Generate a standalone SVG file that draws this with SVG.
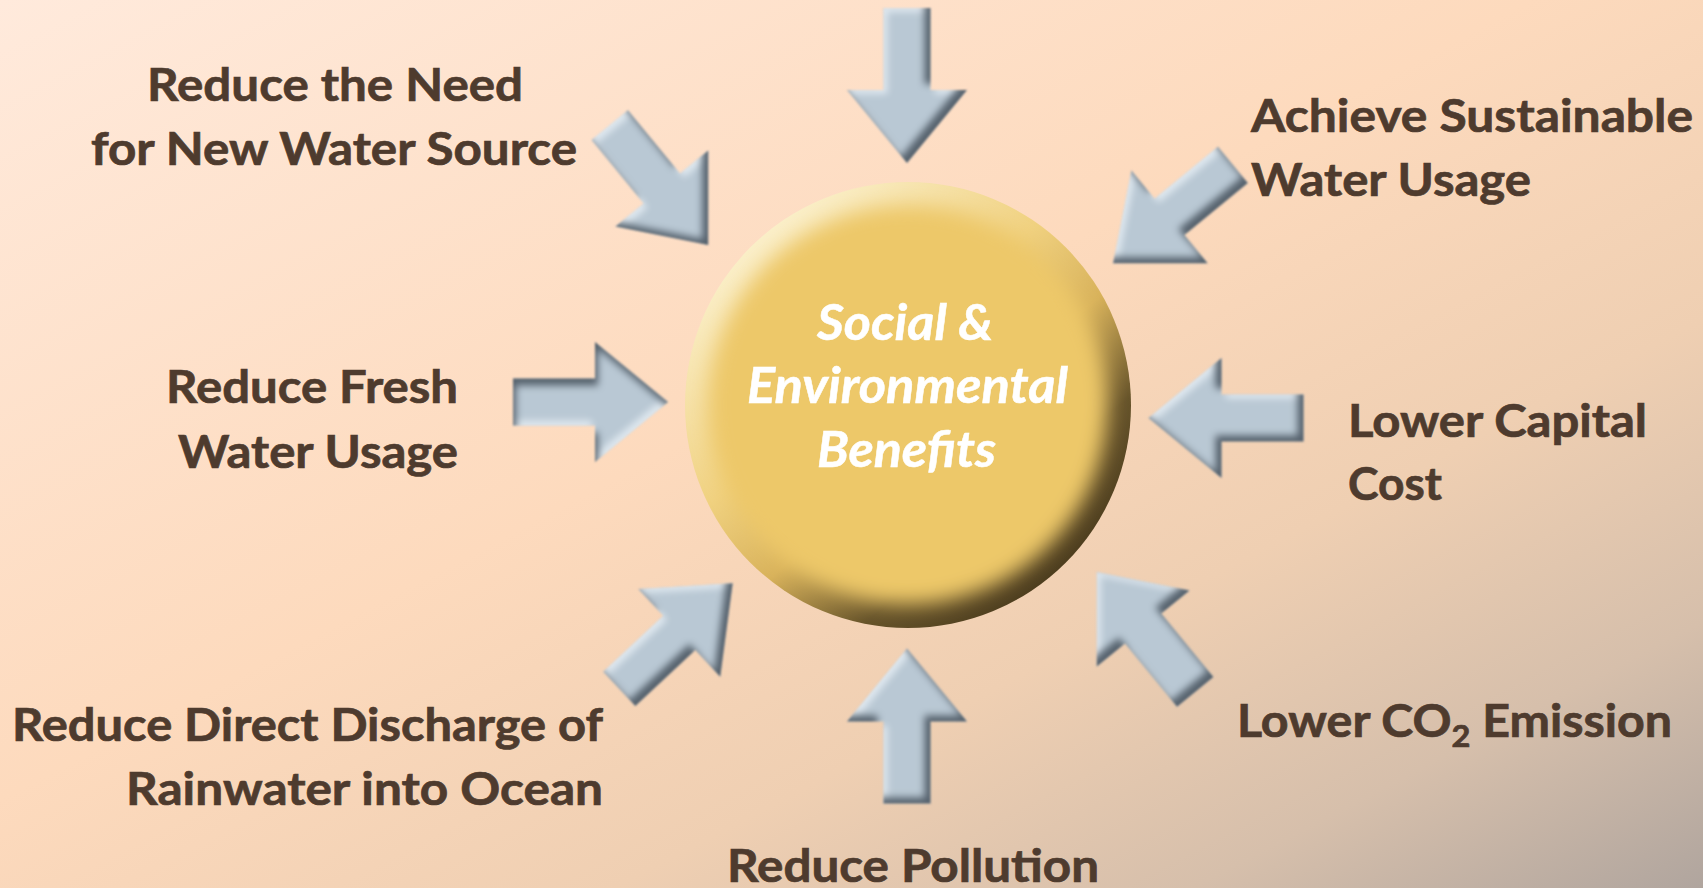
<svg xmlns="http://www.w3.org/2000/svg" xmlns:xlink="http://www.w3.org/1999/xlink" width="1703" height="888" viewBox="0 0 1703 888">
  <defs>
    <style>
      .lbl { font-family: Lato, "Liberation Sans", sans-serif; font-weight: 700; font-size: 46px; fill: #4e3b2e; stroke: #4e3b2e; stroke-width: 0.7px; }
      .hub { font-family: Lato, "Liberation Sans", sans-serif; font-weight: 700; font-style: italic; font-size: 50px; fill: #ffffff; stroke: #ffffff; stroke-width: 0.5px; }
      .arrow { fill: #b9c8d4; }
    </style>
    <linearGradient id="bg" x1="0" y1="0" x2="1" y2="1">
      <stop offset="0" stop-color="#ffeadc"/>
      <stop offset="0.45" stop-color="#fddabd"/>
      <stop offset="0.68" stop-color="#efcfb2"/>
      <stop offset="0.85" stop-color="#d6bfab"/>
      <stop offset="1" stop-color="#b0a59e"/>
    </linearGradient>
    <linearGradient id="rim" x1="0.15" y1="0.1" x2="0.85" y2="0.92">
      <stop offset="0" stop-color="#fbf1cf"/>
      <stop offset="0.38" stop-color="#f0d180"/>
      <stop offset="0.58" stop-color="#d8b25b"/>
      <stop offset="0.78" stop-color="#66532a"/>
      <stop offset="1" stop-color="#47381c"/>
    </linearGradient>
    <clipPath id="disc"><circle cx="908" cy="405" r="223"/></clipPath>
    <filter id="soft" x="-20%" y="-20%" width="140%" height="140%">
      <feGaussianBlur stdDeviation="10"/>
    </filter>
    <!-- bevel: shade on lower/right edges, highlight on upper/left -->
    <filter id="bevelBR" x="-20%" y="-20%" width="140%" height="140%" color-interpolation-filters="sRGB">
      <feGaussianBlur in="SourceAlpha" stdDeviation="3.5" result="blur"/>
      <feOffset in="blur" dx="-6" dy="-6" result="shiftD"/>
      <feComposite in="SourceAlpha" in2="shiftD" operator="out" result="edgeD"/>
      <feFlood flood-color="#56626d"/>
      <feComposite in2="edgeD" operator="in" result="dark"/>
      <feOffset in="blur" dx="4" dy="4" result="shiftL"/>
      <feComposite in="SourceAlpha" in2="shiftL" operator="out" result="edgeL"/>
      <feFlood flood-color="#dfe8ef"/>
      <feComposite in2="edgeL" operator="in" result="light"/>
      <feMerge result="m">
        <feMergeNode in="SourceGraphic"/>
        <feMergeNode in="light"/>
        <feMergeNode in="dark"/>
      </feMerge>
      <feGaussianBlur in="m" stdDeviation="0.8"/>
    </filter>
    <!-- bevel: shade on upper edges, highlight below -->
    <filter id="bevelT" x="-20%" y="-20%" width="140%" height="140%" color-interpolation-filters="sRGB">
      <feGaussianBlur in="SourceAlpha" stdDeviation="3.5" result="blur"/>
      <feOffset in="blur" dx="3" dy="7" result="shiftD"/>
      <feComposite in="SourceAlpha" in2="shiftD" operator="out" result="edgeD"/>
      <feFlood flood-color="#56626d"/>
      <feComposite in2="edgeD" operator="in" result="dark"/>
      <feOffset in="blur" dx="-3" dy="-5" result="shiftL"/>
      <feComposite in="SourceAlpha" in2="shiftL" operator="out" result="edgeL"/>
      <feFlood flood-color="#dfe8ef"/>
      <feComposite in2="edgeL" operator="in" result="light"/>
      <feMerge result="m">
        <feMergeNode in="SourceGraphic"/>
        <feMergeNode in="light"/>
        <feMergeNode in="dark"/>
      </feMerge>
      <feGaussianBlur in="m" stdDeviation="0.8"/>
    </filter>
    <!-- block arrow pointing right, centred on the origin -->
    <path id="blockArrow" class="arrow" d="M-77.5,-23.5 L4.5,-23.5 L4.5,-60 L77.5,0 L4.5,60 L4.5,23.5 L-77.5,23.5 Z"/>
  </defs>

  <rect x="0" y="0" width="1703" height="888" fill="url(#bg)"/>

  <g id="connectors">
    <g id="arrow-top" filter="url(#bevelBR)"><use xlink:href="#blockArrow" transform="translate(907,85.5) rotate(90)"/></g>
    <g id="arrow-top-left" filter="url(#bevelBR)"><use xlink:href="#blockArrow" transform="translate(659,185) rotate(50.6)"/></g>
    <g id="arrow-top-right" filter="url(#bevelBR)"><use xlink:href="#blockArrow" transform="translate(1173,214) rotate(140.6)"/></g>
    <g id="arrow-left" filter="url(#bevelT)"><use xlink:href="#blockArrow" transform="translate(590.5,402)"/></g>
    <g id="arrow-right" filter="url(#bevelBR)"><use xlink:href="#blockArrow" transform="translate(1226,418) rotate(180)"/></g>
    <g id="arrow-bottom-left" filter="url(#bevelBR)"><use xlink:href="#blockArrow" transform="translate(676,636) rotate(-43)"/></g>
    <g id="arrow-bottom" filter="url(#bevelBR)"><use xlink:href="#blockArrow" transform="translate(907,726) rotate(-90)"/></g>
    <g id="arrow-bottom-right" filter="url(#bevelBR)"><use xlink:href="#blockArrow" transform="translate(1146,632) rotate(-129.4)"/></g>
  </g>

  <g id="center">
    <circle cx="908" cy="405" r="223" fill="url(#rim)"/>
    <g clip-path="url(#disc)">
      <circle cx="908" cy="405" r="199" fill="#edc869" filter="url(#soft)"/>
    </g>
    <text class="hub" x="817" y="340" textLength="176" lengthAdjust="spacingAndGlyphs">Social &amp;</text>
    <text class="hub" x="747" y="403" textLength="321" lengthAdjust="spacingAndGlyphs">Environmental</text>
    <text class="hub" x="817" y="467" textLength="179" lengthAdjust="spacingAndGlyphs">Benefits</text>
  </g>

  <g id="label-new-source">
    <text class="lbl" x="147" y="101" textLength="376" lengthAdjust="spacingAndGlyphs">Reduce the Need</text>
    <text class="lbl" x="91" y="165" textLength="486" lengthAdjust="spacingAndGlyphs">for New Water Source</text>
  </g>
  <g id="label-fresh-water">
    <text class="lbl" x="166" y="403" textLength="292" lengthAdjust="spacingAndGlyphs">Reduce Fresh</text>
    <text class="lbl" x="178" y="468" textLength="280" lengthAdjust="spacingAndGlyphs">Water Usage</text>
  </g>
  <g id="label-rainwater">
    <text class="lbl" x="12" y="741" textLength="591" lengthAdjust="spacingAndGlyphs">Reduce Direct Discharge of</text>
    <text class="lbl" x="126" y="805" textLength="477" lengthAdjust="spacingAndGlyphs">Rainwater into Ocean</text>
  </g>
  <g id="label-pollution">
    <text class="lbl" x="727" y="882" textLength="372" lengthAdjust="spacingAndGlyphs">Reduce Pollution</text>
  </g>
  <g id="label-co2">
    <text class="lbl" x="1237" y="737" textLength="435" lengthAdjust="spacingAndGlyphs">Lower CO<tspan font-size="31" dy="10">2</tspan><tspan dy="-10"> Emission</tspan></text>
  </g>
  <g id="label-capital">
    <text class="lbl" x="1348" y="437" textLength="299" lengthAdjust="spacingAndGlyphs">Lower Capital</text>
    <text class="lbl" x="1348" y="500" textLength="94" lengthAdjust="spacingAndGlyphs">Cost</text>
  </g>
  <g id="label-sustainable">
    <text class="lbl" x="1251" y="132" textLength="442" lengthAdjust="spacingAndGlyphs">Achieve Sustainable</text>
    <text class="lbl" x="1251" y="196" textLength="280" lengthAdjust="spacingAndGlyphs">Water Usage</text>
  </g>
</svg>
